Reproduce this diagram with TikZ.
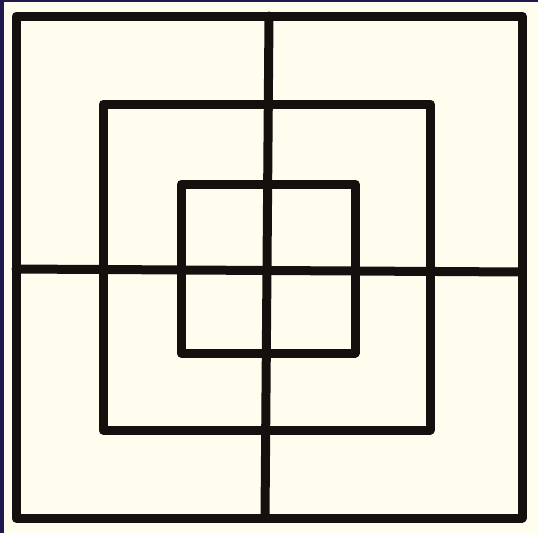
\documentclass[tikz,border=0pt]{standalone}
\definecolor{navy}{RGB}{30,26,80}
\definecolor{cream}{RGB}{255,253,237}
\definecolor{ink}{RGB}{20,16,14}
\tikzset{sq/.style={draw=ink, line width=9pt, line join=round, line cap=round}}
\begin{document}
\begin{tikzpicture}[x=1pt,y=-1pt]
\useasboundingbox (0,0) rectangle (538,533);
\fill[navy] (0,0) rectangle (538,533);
\fill[cream] (4,2) rectangle (538,533);
\draw[sq] (16,16) rectangle (522,518);
\draw[sq] (103,104) rectangle (430,430);
\draw[sq] (181,184) rectangle (355,353);
\draw[sq] (269,16) -- (265,518);
\draw[sq] (16,269) -- (522,272);
\end{tikzpicture}
\end{document}
